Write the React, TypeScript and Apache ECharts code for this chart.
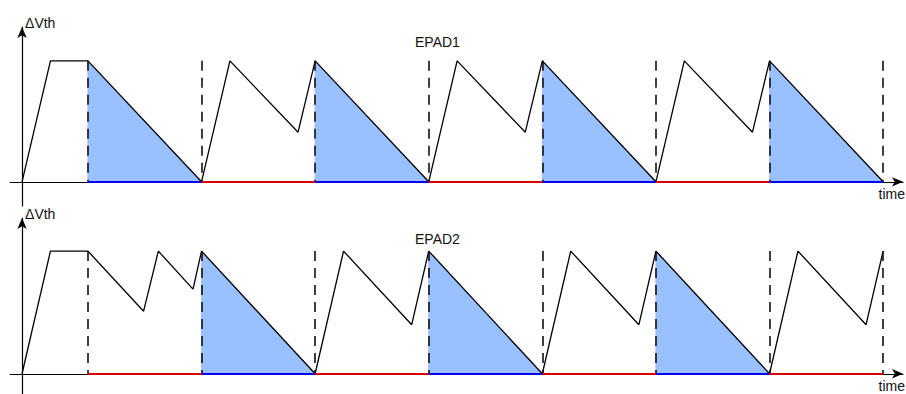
import React, { useEffect, useRef } from "react";
import * as echarts from "echarts";

// Threshold-voltage shift of the two pads over time (plateau level = 1).
const EPAD1_T = [0, 2.5, 5.8, 15.8, 18.3, 24.3, 25.8, 35.8, 38.3, 44.3, 45.8, 55.8, 58.3, 64.3, 65.8, 75.8];
const EPAD1_V = [0, 1, 1, 0, 1, 0.41, 1, 0, 1, 0.41, 1, 0, 1, 0.41, 1, 0];

const EPAD2_T = [0, 2.5, 5.8, 10.7, 12.0, 15.05, 15.8, 25.8, 28.3, 34.3, 35.8, 45.8, 48.3, 54.3, 55.8, 65.8, 68.3, 74.3, 75.8];
const EPAD2_V = [0, 1, 1, 0.51, 1, 0.69, 1, 0, 1, 0.4, 1, 0, 1, 0.4, 1, 0, 1, 0.4, 1];

// Phase boundaries (dashed markers)
const PHASE_T = [5.8, 15.8, 25.8, 35.8, 45.8, 55.8, 65.8, 75.8];

// Discharge (shaded) and idle intervals for each pad
const EPAD1_DISCHARGE: [number, number][] = [[5.8, 15.8], [25.8, 35.8], [45.8, 55.8], [65.8, 75.8]];
const EPAD1_IDLE: [number, number][] = [[15.8, 25.8], [35.8, 45.8], [55.8, 65.8]];
const EPAD2_DISCHARGE: [number, number][] = [[15.8, 25.8], [35.8, 45.8], [55.8, 65.8]];
const EPAD2_IDLE: [number, number][] = [[5.8, 15.8], [25.8, 35.8], [45.8, 55.8], [65.8, 75.8]];

const FONT = "'Liberation Sans', Arial, Helvetica, sans-serif";
const BLUE_FILL = "#99c0ff";
const BLUE_LINE = "#0000ee";
const RED_LINE = "#dd0000";

export default function App() {
  const ref = useRef<HTMLDivElement>(null);

  useEffect(() => {
    if (!ref.current) return;
    const chart = echarts.init(ref.current, undefined, { renderer: "svg" });

    const panels = [
      {
        name: "EPAD1", t: EPAD1_T, v: EPAD1_V, discharge: EPAD1_DISCHARGE, idle: EPAD1_IDLE,
        grid: { left: 10, right: 3, top: 27, height: 179 }, yMin: -0.2, yMax: 1.28, titleTop: 35,
      },
      {
        name: "EPAD2", t: EPAD2_T, v: EPAD2_V, discharge: EPAD2_DISCHARGE, idle: EPAD2_IDLE,
        grid: { left: 10, right: 3, top: 218, height: 176 }, yMin: -0.165, yMax: 1.27, titleTop: 232,
      },
    ];

    const series: any[] = [];
    panels.forEach((p, i) => {
      // shaded discharge triangles
      p.discharge.forEach(([a, b]) => {
        series.push({
          type: "line",
          xAxisIndex: i,
          yAxisIndex: i,
          data: [[a, 0], [a, 1], [b, 0]],
          symbol: "none",
          lineStyle: { color: "#b0b4ff", width: 1 },
          areaStyle: { color: BLUE_FILL, opacity: 1 },
          z: 1,
          silent: true,
        });
      });
      // main waveform with phase markers and baseline state segments
      series.push({
        type: "line",
        xAxisIndex: i,
        yAxisIndex: i,
        data: p.t.map((t, k) => [t, p.v[k]]),
        symbol: "none",
        lineStyle: { color: "#000", width: 1.3 },
        z: 4,
        markLine: {
          silent: true,
          symbol: "none",
          animation: false,
          label: { show: false },
          data: [
            ...PHASE_T.map((t) => [
              { coord: [t, 1], lineStyle: { color: "#111", width: 1.6, type: [10, 7] } },
              { coord: [t, 0] },
            ]),
            ...p.discharge.map(([a, b]) => [
              { coord: [a, 0], lineStyle: { color: BLUE_LINE, width: 2, type: "solid" } },
              { coord: [b, 0] },
            ]),
            ...p.idle.map(([a, b]) => [
              { coord: [a, 0], lineStyle: { color: RED_LINE, width: 2, type: "solid" } },
              { coord: [b, 0] },
            ]),
          ],
        },
      });
    });

    const option: any = {
      animation: false,
      backgroundColor: "#fff",
      title: panels.map((p) => ({
        text: p.name,
        left: 415,
        top: p.titleTop,
        padding: 0,
        textStyle: { fontFamily: FONT, fontSize: 14, fontWeight: "normal", color: "#111" },
      })),
      grid: panels.map((p) => p.grid),
      xAxis: panels.map((_, i) => ({
        type: "value",
        gridIndex: i,
        min: -1.06,
        max: 77.55,
        name: "time",
        nameLocation: "end",
        nameGap: 2,
        nameTextStyle: {
          fontFamily: FONT, fontSize: 14, color: "#111",
          align: "right", verticalAlign: "top", padding: [5, 0, 0, 0],
        },
        axisLine: {
          show: true, onZero: true,
          symbol: ["none", "arrow"], symbolSize: [7, 11],
          lineStyle: { color: "#000", width: 1.2 },
        },
        axisTick: { show: false },
        axisLabel: { show: false },
        splitLine: { show: false },
      })),
      yAxis: panels.map((p, i) => ({
        type: "value",
        gridIndex: i,
        min: p.yMin,
        max: p.yMax,
        name: "ΔVth",
        nameLocation: "end",
        nameGap: -3,
        nameTextStyle: {
          fontFamily: FONT, fontSize: 14, color: "#111",
          align: "left", verticalAlign: "bottom", padding: [0, 0, 0, 3],
        },
        axisLine: {
          show: true, onZero: true,
          symbol: ["none", "arrow"], symbolSize: [7, 11],
          lineStyle: { color: "#000", width: 1.2 },
        },
        axisTick: { show: false },
        axisLabel: { show: false },
        splitLine: { show: false },
      })),
      series,
    };

    chart.setOption(option);
    return () => chart.dispose();
  }, []);

  return (
    <div
      ref={ref}
      style={{ position: "fixed", left: 0, top: 0, width: 906, height: 394, background: "#fff" }}
    />
  );
}
